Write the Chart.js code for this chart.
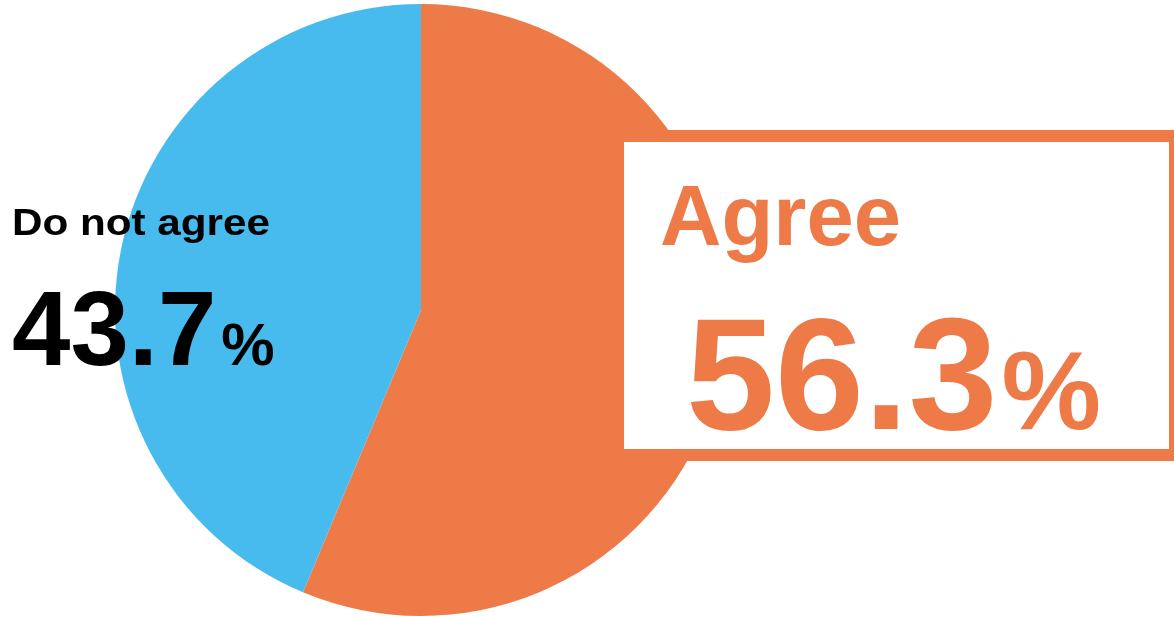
<!DOCTYPE html>
<html>
<head>
<meta charset="utf-8">
<script src="https://cdn.jsdelivr.net/npm/chart.js@4"></script>
<style>
html,body{margin:0;padding:0;background:#fff;}
#wrap{width:1174px;height:617px;position:relative;}
</style>
</head>
<body>
<div id="wrap"><canvas id="c" width="1174" height="617"></canvas></div>
<script>
const categories = ["Agree", "Do not agree"];
const values = [56.3, 43.7];
const colors = ["#EE7A48", "#48BBEE"];
const textColors = ["#EE7A48", "#000000"];

const FONT = '"Liberation Sans", Arial, sans-serif';

const labelPlugin = {
  id: 'labels',
  afterDraw(chart) {
    const ctx = chart.ctx;
    ctx.save();
    // Agree box
    ctx.fillStyle = '#ffffff';
    ctx.fillRect(618, 136, 557, 319);
    ctx.strokeStyle = colors[0];
    ctx.lineWidth = 12;
    ctx.strokeRect(618, 136, 557, 319);

    ctx.textBaseline = 'alphabetic';
    ctx.textAlign = 'left';
    // Agree
    ctx.fillStyle = textColors[0];
    ctx.font = 'bold 85px ' + FONT;
    ctx.fillText(categories[0], 660, 245);
    ctx.font = 'bold 160px ' + FONT;
    const v0 = values[0].toFixed(1);
    ctx.fillText(v0, 686, 429);
    let w0 = ctx.measureText(v0).width;
    ctx.font = 'bold 112px ' + FONT;
    ctx.fillText('%', 686 + w0 + 4, 429);

    // Do not agree
    ctx.fillStyle = textColors[1];
    ctx.font = 'bold 36px ' + FONT;
    const tw = ctx.measureText(categories[1]).width;
    ctx.save();
    ctx.translate(12, 235);
    ctx.scale(258 / tw, 1);
    ctx.fillText(categories[1], 0, 0);
    ctx.restore();
    ctx.font = 'bold 105px ' + FONT;
    const v1 = values[1].toFixed(1);
    ctx.fillText(v1, 12, 365);
    let w1 = ctx.measureText(v1).width;
    ctx.font = 'bold 60px ' + FONT;
    ctx.fillText('%', 12 + w1 + 5, 365);
    ctx.restore();
  }
};

new Chart(document.getElementById('c'), {
  type: 'pie',
  data: {
    labels: categories,
    datasets: [{
      data: values,
      backgroundColor: colors,
      borderWidth: 0
    }]
  },
  options: {
    responsive: false,
    animation: false,
    layout: { padding: { top: 4, bottom: 1, left: 115, right: 447 } },
    plugins: {
      legend: { display: false },
      tooltip: { enabled: false }
    }
  },
  plugins: [labelPlugin]
});
</script>
</body>
</html>
